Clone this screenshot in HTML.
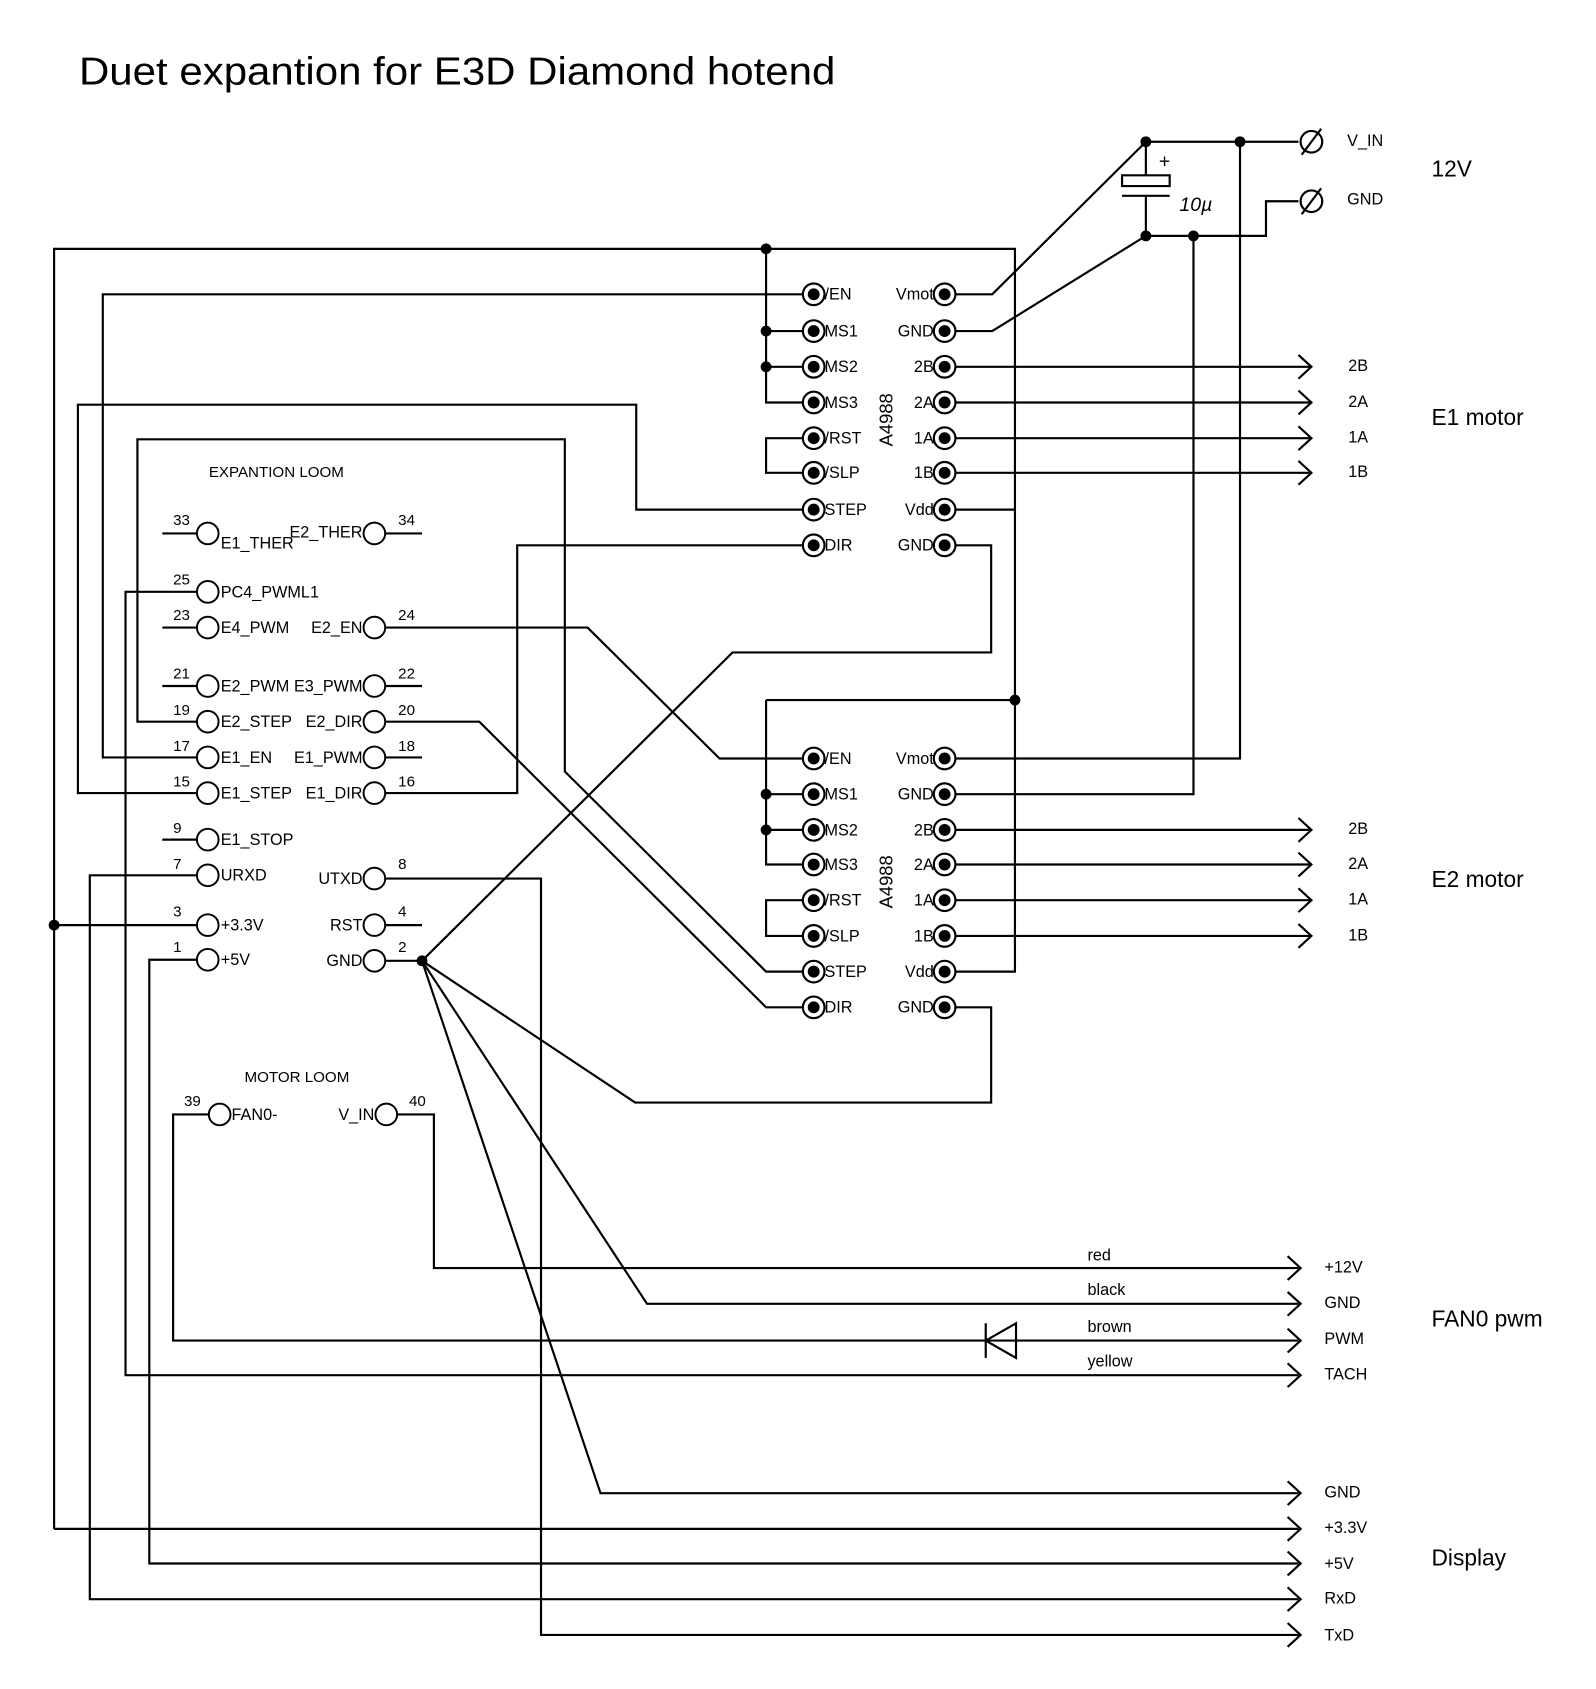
<!DOCTYPE html>
<html><head><meta charset="utf-8"><style>
html,body{margin:0;padding:0;background:#fff;}
svg{display:block;}
text{font-family:"Liberation Sans",Arial,sans-serif;fill:#000;}
</style></head><body>
<svg width="1596" height="1689" viewBox="0 0 1475 1561" preserveAspectRatio="none" xmlns="http://www.w3.org/2000/svg">
<defs>
<g id="pf"><circle r="10" fill="#fff" stroke="#000" stroke-width="2"/><circle r="5.5" fill="#000"/></g>
<g id="po"><circle r="10" fill="#fff" stroke="#000" stroke-width="1.8"/></g>
<circle id="d" r="5" fill="#000"/>
<path id="ar" d="M-12,-11 L0,0 L-12,11" fill="none" stroke="#000" stroke-width="2"/>
</defs>
<text x="73" y="78" font-size="36" textLength="699" lengthAdjust="spacingAndGlyphs">Duet expantion for E3D Diamond hotend</text>

<g fill="none" stroke="#000" stroke-width="2">
<path d="M1059,131 H1200"/>
<path d="M1059,131 V162 M1037,162 h44 v10 h-44 z M1037,181 h44 M1059,181 V218"/>
<path d="M1059,218 H1170 V186 H1200"/>
<path d="M1146,131 V701 H873"/>
<path d="M1103,218 V734 H873"/>
<path d="M873,272 H917 L1059,131"/>
<path d="M873,306 H917 L1059,218"/>
<path d="M50,1413 V230 H938 V898 H873"/>
<path d="M873,471 H938"/>
<path d="M708,230 V372 H752 M708,306 H752 M708,339 H752"/>
<path d="M708,647 H938 M708,647 V799 H752 M708,734 H752 M708,767 H752"/>
<path d="M752,405 H708 V437 H752 M752,832 H708 V865 H752"/>
<path d="M50,855 H192"/>
<path d="M873,339 H1212 M873,372 H1212 M873,405 H1212 M873,437 H1212"/>
<path d="M873,767 H1212 M873,799 H1212 M873,832 H1212 M873,865 H1212"/>
<path d="M752,272 H95 V700 H192"/>
<path d="M752,471 H588 V374 H72 V733 H192"/>
<path d="M752,504 H478 V733 H346"/>
<path d="M873,504 H916 V603 H677 L390,888"/>
<path d="M752,701 H665 L543,580 H346"/>
<path d="M752,898 H708 L522,713 V406 H127 V667 H192"/>
<path d="M752,931 H708 L443,667 H346"/>
<path d="M873,931 H916 V1019 H587 L390,888"/>
<path d="M192,547 H116 V1271 H1200"/>
<path d="M192,809 H83 V1478 H1200"/>
<path d="M346,812 H500 V1511 H1200"/>
<path d="M192,887 H138 V1445 H1200"/>
<path d="M50,1413 H1200"/>
<path d="M346,888 H390 L555,1380 H1200 M390,888 L598,1205 H1200"/>
<path d="M203,1030 H160 V1239 H1200"/>
<path d="M357,1030 H401 V1172 H1200"/>
<path d="M911,1223 V1255 M939,1223 V1255 L911,1239 Z"/>
<path d="M150,493 H182 M356,493 H390 M150,580 H182 M150,634 H182 M356,634 H390 M356,700 H390 M150,776 H182 M356,855 H390"/>
</g>
<g>
<use href="#ar" x="1212" y="339"/><use href="#ar" x="1212" y="372"/><use href="#ar" x="1212" y="405"/><use href="#ar" x="1212" y="437"/>
<use href="#ar" x="1212" y="767"/><use href="#ar" x="1212" y="799"/><use href="#ar" x="1212" y="832"/><use href="#ar" x="1212" y="865"/>
<use href="#ar" x="1202" y="1172"/><use href="#ar" x="1202" y="1205"/><use href="#ar" x="1202" y="1239"/><use href="#ar" x="1202" y="1271"/>
<use href="#ar" x="1202" y="1380"/><use href="#ar" x="1202" y="1413"/><use href="#ar" x="1202" y="1445"/><use href="#ar" x="1202" y="1478"/><use href="#ar" x="1202" y="1511"/>
</g>
<g fill="#fff" stroke="#000" stroke-width="2">
<circle cx="1212" cy="131" r="10"/><path d="M1203,143 L1221,119"/>
<circle cx="1212" cy="186" r="10"/><path d="M1203,198 L1221,174"/>
</g>
<g>
<use href="#d" x="1059" y="131"/><use href="#d" x="1146" y="131"/><use href="#d" x="1059" y="218"/><use href="#d" x="1103" y="218"/>
<use href="#d" x="708" y="230"/><use href="#d" x="708" y="306"/><use href="#d" x="708" y="339"/>
<use href="#d" x="938" y="647"/><use href="#d" x="708" y="734"/><use href="#d" x="708" y="767"/>
<use href="#d" x="50" y="855"/><use href="#d" x="390" y="888"/>
</g>
<g>
<use href="#pf" x="752" y="272"/><use href="#pf" x="752" y="306"/><use href="#pf" x="752" y="339"/><use href="#pf" x="752" y="372"/><use href="#pf" x="752" y="405"/><use href="#pf" x="752" y="437"/><use href="#pf" x="752" y="471"/><use href="#pf" x="752" y="504"/>
<use href="#pf" x="873" y="272"/><use href="#pf" x="873" y="306"/><use href="#pf" x="873" y="339"/><use href="#pf" x="873" y="372"/><use href="#pf" x="873" y="405"/><use href="#pf" x="873" y="437"/><use href="#pf" x="873" y="471"/><use href="#pf" x="873" y="504"/>
<use href="#pf" x="752" y="701"/><use href="#pf" x="752" y="734"/><use href="#pf" x="752" y="767"/><use href="#pf" x="752" y="799"/><use href="#pf" x="752" y="832"/><use href="#pf" x="752" y="865"/><use href="#pf" x="752" y="898"/><use href="#pf" x="752" y="931"/>
<use href="#pf" x="873" y="701"/><use href="#pf" x="873" y="734"/><use href="#pf" x="873" y="767"/><use href="#pf" x="873" y="799"/><use href="#pf" x="873" y="832"/><use href="#pf" x="873" y="865"/><use href="#pf" x="873" y="898"/><use href="#pf" x="873" y="931"/>
</g>
<g>
<use href="#po" x="192" y="493"/><use href="#po" x="346" y="493"/><use href="#po" x="192" y="547"/>
<use href="#po" x="192" y="580"/><use href="#po" x="346" y="580"/><use href="#po" x="192" y="634"/><use href="#po" x="346" y="634"/>
<use href="#po" x="192" y="667"/><use href="#po" x="346" y="667"/><use href="#po" x="192" y="700"/><use href="#po" x="346" y="700"/>
<use href="#po" x="192" y="733"/><use href="#po" x="346" y="733"/><use href="#po" x="192" y="776"/>
<use href="#po" x="192" y="809"/><use href="#po" x="346" y="812"/><use href="#po" x="192" y="855"/><use href="#po" x="346" y="855"/>
<use href="#po" x="192" y="887"/><use href="#po" x="346" y="888"/>
<use href="#po" x="203" y="1030"/><use href="#po" x="357" y="1030"/>
</g>

<g font-size="15">
<text x="762" y="277">/EN</text><text x="762" y="311">MS1</text><text x="762" y="344">MS2</text><text x="762" y="377">MS3</text><text x="762" y="410">/RST</text><text x="762" y="442">/SLP</text><text x="762" y="476">STEP</text><text x="762" y="509">DIR</text>
<g text-anchor="end"><text x="863" y="277">Vmot</text><text x="863" y="311">GND</text><text x="863" y="344">2B</text><text x="863" y="377">2A</text><text x="863" y="410">1A</text><text x="863" y="442">1B</text><text x="863" y="476">Vdd</text><text x="863" y="509">GND</text></g>
<text x="762" y="706">/EN</text><text x="762" y="739">MS1</text><text x="762" y="772">MS2</text><text x="762" y="804">MS3</text><text x="762" y="837">/RST</text><text x="762" y="870">/SLP</text><text x="762" y="903">STEP</text><text x="762" y="936">DIR</text>
<g text-anchor="end"><text x="863" y="706">Vmot</text><text x="863" y="739">GND</text><text x="863" y="772">2B</text><text x="863" y="804">2A</text><text x="863" y="837">1A</text><text x="863" y="870">1B</text><text x="863" y="903">Vdd</text><text x="863" y="936">GND</text></g>
<text font-size="17" transform="translate(825,388) rotate(-90)" text-anchor="middle">A4988</text>
<text font-size="17" transform="translate(825,815) rotate(-90)" text-anchor="middle">A4988</text>
<text x="204" y="507">E1_THER</text><text x="335" y="497" text-anchor="end">E2_THER</text>
<text x="204" y="552">PC4_PWML1</text>
<text x="204" y="585">E4_PWM</text><text x="335" y="585" text-anchor="end">E2_EN</text>
<text x="204" y="639">E2_PWM</text><text x="335" y="639" text-anchor="end">E3_PWM</text>
<text x="204" y="672">E2_STEP</text><text x="335" y="672" text-anchor="end">E2_DIR</text>
<text x="204" y="705">E1_EN</text><text x="335" y="705" text-anchor="end">E1_PWM</text>
<text x="204" y="738">E1_STEP</text><text x="335" y="738" text-anchor="end">E1_DIR</text>
<text x="204" y="781">E1_STOP</text>
<text x="204" y="814">URXD</text><text x="335" y="817" text-anchor="end">UTXD</text>
<text x="204" y="860">+3.3V</text><text x="335" y="860" text-anchor="end">RST</text>
<text x="204" y="892">+5V</text><text x="335" y="893" text-anchor="end">GND</text>
<text x="214" y="1035">FAN0-</text><text x="346" y="1035" text-anchor="end">V_IN</text>
</g>
<g font-size="14">
<text x="160" y="485">33</text><text x="368" y="485">34</text><text x="160" y="540">25</text>
<text x="160" y="573">23</text><text x="368" y="573">24</text><text x="160" y="627">21</text><text x="368" y="627">22</text>
<text x="160" y="661">19</text><text x="368" y="661">20</text><text x="160" y="694">17</text><text x="368" y="694">18</text>
<text x="160" y="727">15</text><text x="368" y="727">16</text><text x="160" y="770">9</text>
<text x="160" y="803">7</text><text x="368" y="803">8</text><text x="160" y="847">3</text><text x="368" y="847">4</text>
<text x="160" y="880">1</text><text x="368" y="880">2</text>
<text x="170" y="1022">39</text><text x="378" y="1022">40</text>
<text x="193" y="441">EXPANTION LOOM</text>
<text x="226" y="1000">MOTOR LOOM</text>
</g>
<g font-size="15">
<text x="1245" y="135">V_IN</text><text x="1245" y="189">GND</text>
<text x="1246" y="343">2B</text><text x="1246" y="376">2A</text><text x="1246" y="409">1A</text><text x="1246" y="441">1B</text>
<text x="1246" y="771">2B</text><text x="1246" y="803">2A</text><text x="1246" y="836">1A</text><text x="1246" y="869">1B</text>
<text x="1005" y="1165">red</text><text x="1005" y="1197">black</text><text x="1005" y="1231">brown</text><text x="1005" y="1263">yellow</text>
<text x="1224" y="1176">+12V</text><text x="1224" y="1209">GND</text><text x="1224" y="1242">PWM</text><text x="1224" y="1275">TACH</text>
<text x="1224" y="1384">GND</text><text x="1224" y="1417">+3.3V</text><text x="1224" y="1450">+5V</text><text x="1224" y="1482">RxD</text><text x="1224" y="1516">TxD</text>
</g>
<text x="1071" y="155" font-size="18">+</text>
<text x="1090" y="195" font-size="18" font-style="italic">10µ</text>
<g font-size="21">
<text x="1323" y="163">12V</text>
<text x="1323" y="393">E1 motor</text>
<text x="1323" y="820">E2 motor</text>
<text x="1323" y="1226">FAN0 pwm</text>
<text x="1323" y="1447">Display</text>
</g>
</svg>
</body></html>
